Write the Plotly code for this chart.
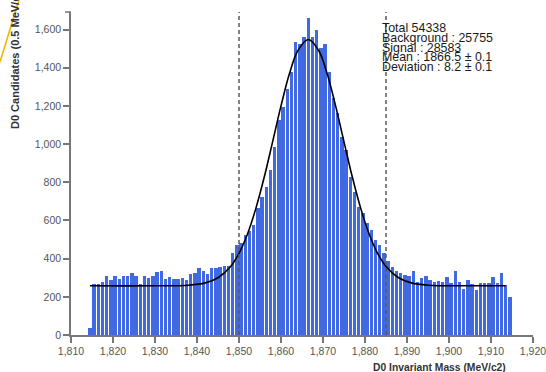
import plotly.graph_objects as go

# ---- data ----
bin_width = 1.0
bin_start = 1814.5  # centre of first bin
counts = [37, 268, 268, 276, 308, 286, 311, 293, 311, 308,
          323, 307, 268, 307, 300, 311, 332, 336, 293, 302,
          295, 295, 299, 290, 320, 326, 353, 335, 318, 353,
          353, 354, 364, 360, 432, 470, 480, 523, 545, 576,
          665, 724, 776, 864, 986, 1126, 1195, 1291, 1379, 1536,
          1527, 1562, 1658, 1562, 1597, 1501, 1527, 1379, 1239, 1161,
          1038, 969, 829, 750, 672, 637, 585, 550, 500, 470,
          430, 389, 354, 335, 326, 314, 309, 337, 279, 297,
          309, 288, 279, 284, 279, 302, 271, 337, 279, 239,
          288, 267, 236, 271, 271, 271, 302, 274, 323, 262, 197]
bin_centres = [bin_start + i * bin_width for i in range(len(counts))]

fit_x = [1814.5, 1830, 1838, 1842, 1845, 1848, 1850, 1852, 1854, 1856, 1858, 1860,
         1862, 1864, 1866.5, 1869, 1871, 1873, 1875, 1877, 1879, 1881, 1883, 1885,
         1888, 1891, 1895, 1903, 1913.5]
fit_y = [258, 258, 261, 273, 300, 359, 428, 528, 662, 826, 1012, 1200,
         1368, 1489, 1548, 1489, 1368, 1200, 1012, 826, 662, 528, 428, 359,
         300, 273, 261, 258, 258]

window = [1850, 1885]
stats_lines = ["Total 54338", "Background : 25755", "Signal : 28583",
               "Mean : 1866.5 \u00b1 0.1", "Deviation : 8.2 \u00b1 0.1"]
x_ticks = list(range(1810, 1921, 10))
y_ticks = list(range(0, 1601, 200))
x_title = "D0 Invariant Mass (MeV/c2)"
y_title = "D0 Candidates (0.5 MeV/c2)"

# ---- layout geometry ----
W, H = 546, 372
L, R, T, B = 71, 13, 12, 37
pw, ph = W - L - R, H - T - B

def px(xp):
    return (xp - L) / pw

def py(yp):
    return (H - B - yp) / ph

fig = go.Figure()
fig.add_trace(go.Bar(x=bin_centres, y=counts, width=bin_width * 0.78,
                     marker=dict(color="#4169e1", line=dict(width=0)),
                     hoverinfo="skip"))
fig.add_trace(go.Scatter(x=fit_x, y=fit_y, mode="lines",
                         line=dict(color="black", width=1.6, shape="spline", smoothing=1.0),
                         hoverinfo="skip"))

shapes = []
for w in window:
    shapes.append(dict(type="line", xref="x", yref="paper", x0=w, x1=w, y0=0, y1=1,
                       line=dict(color="#5a5a5a", width=1.5, dash="4px,3px"), layer="above"))
# outer tick at top of y axis (d3 style)
shapes.append(dict(type="line", xref="paper", yref="paper", x0=px(L - 6), x1=px(L), y0=1, y1=1,
                   line=dict(color="#777777", width=1.5)))
# stray orange stroke in top-left corner
shapes.append(dict(type="line", xref="paper", yref="paper", x0=px(0), y0=py(62), x1=px(19), y1=py(0),
                   line=dict(color="#f5b400", width=1.6), layer="above"))

annotations = []
for k, s in enumerate(stats_lines):
    annotations.append(dict(text=s, xref="paper", yref="paper", x=px(380), y=py(28 + 9.8 * k),
                            xanchor="left", yanchor="middle", showarrow=False,
                            font=dict(family="Liberation Sans, Arial", size=12.4, color="#1a1a1a")))
annotations.append(dict(text="<b>" + x_title + "</b>", xref="paper", yref="paper",
                        x=px(508), y=py(367), xanchor="right", yanchor="middle", showarrow=False,
                        font=dict(family="Liberation Sans, Arial", size=10.3, color="#333333")))
annotations.append(dict(text="<b>" + y_title + "</b>", xref="paper", yref="paper",
                        x=px(14.5), y=py(131), xanchor="center", yanchor="bottom", textangle=-90,
                        showarrow=False,
                        font=dict(family="Liberation Sans, Arial", size=11, color="#333333")))

axis_font = dict(family="Liberation Sans, Arial", size=10.5, color="#555555")
fig.update_layout(
    width=W, height=H, margin=dict(l=L, r=R, t=T, b=B, pad=0),
    paper_bgcolor="white", plot_bgcolor="white", showlegend=False, bargap=0,
    xaxis=dict(range=[1810, 1920], tickvals=x_ticks, tickformat=",d", ticks="outside",
               ticklen=6, tickwidth=1.5, tickcolor="#777777", showline=True, linecolor="#777777",
               linewidth=1.5, showgrid=False, zeroline=False, tickfont=axis_font,
               automargin=False, ticklabeloverflow="allow"),
    yaxis=dict(range=[0, 1692], tickvals=y_ticks, tickformat=",d", ticks="outside",
               ticklen=6, tickwidth=1.5, tickcolor="#777777", showline=True, linecolor="#777777",
               linewidth=1.5, showgrid=False, zeroline=False, tickfont=axis_font,
               automargin=False, ticklabeloverflow="allow"),
    shapes=shapes, annotations=annotations,
)
fig.write_html("out.html")
